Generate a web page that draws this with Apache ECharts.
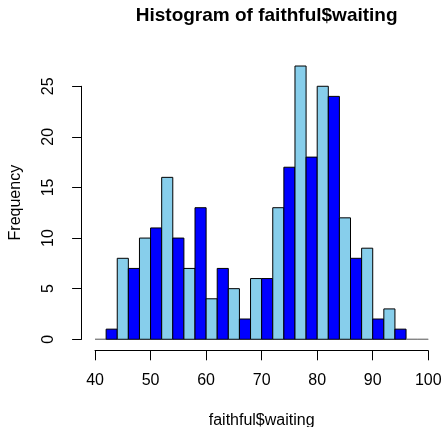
<!DOCTYPE html>
<html>
<head>
<meta charset="utf-8">
<script src="https://cdn.jsdelivr.net/npm/echarts@6/dist/echarts.min.js"></script>
<style>html,body{margin:0;padding:0;background:#fff;}#c{width:444px;height:427px;}</style>
</head>
<body>
<div id="c"></div>
<script>
// Bin edges (waiting time) and frequencies
var breaks = [40,42,44,46,48,50,52,54,56,58,60,62,64,66,68,70,72,74,76,78,80,82,84,86,88,90,92,94,96,98,100];
var counts = [0,1,8,7,10,11,16,10,7,13,4,7,5,2,6,6,13,17,27,18,25,24,12,8,9,2,3,1,0,0];
var xTicks = [40,50,60,70,80,90,100];
var yTicks = [0,5,10,15,20,25];
var barColors = ['#87CEEB', '#0000FF'];

var FONT = "'Liberation Sans', Arial, Helvetica, sans-serif";
var binData = [];
for (var i = 0; i < counts.length; i++) {
  binData.push([breaks[i], breaks[i + 1], counts[i], i]);
}

// plot region geometry (R-like)
var L = 81.7, R = 441.6, T = 55.1, B = 350.2;
var xMin = 37.6, xMax = 102.4, yMin = -1.08, yMax = 28.08;
function px(v){ return L + (v - xMin) / (xMax - xMin) * (R - L); }
function py(v){ return B - (v - yMin) / (yMax - yMin) * (B - T); }

var chart = echarts.init(document.getElementById('c'), null, {renderer: 'canvas'});
chart.setOption({
  animation: false,
  backgroundColor: '#fff',
  title: {
    text: 'Histogram of faithful$waiting',
    left: (L + R) / 2, top: 1, textAlign: 'center',
    textStyle: {fontFamily: FONT, fontSize: 19, fontWeight: 'bold', color: '#000'}
  },
  grid: [
    {left: L, top: T, width: R - L, height: B - T, outerBoundsMode: 'none', containLabel: false},
    {left: px(xTicks[0]), top: T, width: px(xTicks[xTicks.length-1]) - px(xTicks[0]), height: B + 0.5 - T, outerBoundsMode: 'none', containLabel: false},
    {left: L, top: py(yTicks[yTicks.length-1]), width: R - L, height: py(yTicks[0]) - py(yTicks[yTicks.length-1]), outerBoundsMode: 'none', containLabel: false}
  ],
  xAxis: [
    {gridIndex: 0, type: 'value', min: xMin, max: xMax,
     axisLine: {show: false}, axisTick: {show: false}, axisLabel: {show: false}, splitLine: {show: false},
     name: 'faithful$waiting', nameLocation: 'middle', nameGap: 62,
     nameTextStyle: {fontFamily: FONT, fontSize: 16, color: '#000'}},
    {gridIndex: 1, type: 'value', min: xTicks[0], max: xTicks[xTicks.length-1], interval: 10,
     axisLine: {show: true, lineStyle: {color: '#000', width: 1}},
     axisTick: {show: true, length: 9.6, lineStyle: {color: '#000'}},
     axisLabel: {fontFamily: FONT, fontSize: 16, color: '#000', margin: 22, showMinLabel: true, showMaxLabel: true},
     splitLine: {show: false}},
    {gridIndex: 2, type: 'value', show: false, min: 0, max: 1}
  ],
  yAxis: [
    {gridIndex: 0, type: 'value', min: yMin, max: yMax,
     axisLine: {show: false}, axisTick: {show: false}, axisLabel: {show: false}, splitLine: {show: false},
     name: 'Frequency', nameLocation: 'middle', nameGap: 58,
     nameTextStyle: {fontFamily: FONT, fontSize: 16, color: '#000'}},
    {gridIndex: 1, type: 'value', show: false, min: 0, max: 1},
    {gridIndex: 2, type: 'value', min: yTicks[0], max: yTicks[yTicks.length-1], interval: 5,
     axisLine: {show: true, lineStyle: {color: '#000', width: 1}},
     axisTick: {show: true, length: 9.6, lineStyle: {color: '#000'}},
     axisLabel: {fontFamily: FONT, fontSize: 16, color: '#000', margin: 25, rotate: 90, showMinLabel: true, showMaxLabel: true},
     splitLine: {show: false}}
  ],
  series: [{
    type: 'custom',
    xAxisIndex: 0, yAxisIndex: 0,
    data: binData,
    renderItem: function (params, api) {
      var x0 = api.value(0), x1 = api.value(1), c = api.value(2), idx = api.value(3);
      var p0 = api.coord([x0, c]);
      var p1 = api.coord([x1, 0]);
      return {
        type: 'rect',
        shape: {x: p0[0], y: p0[1], width: p1[0] - p0[0], height: p1[1] - p0[1]},
        style: {fill: barColors[idx % 2], stroke: c === 0 ? '#808080' : '#000', lineWidth: 1}
      };
    }
  }]
});
</script>
</body>
</html>
